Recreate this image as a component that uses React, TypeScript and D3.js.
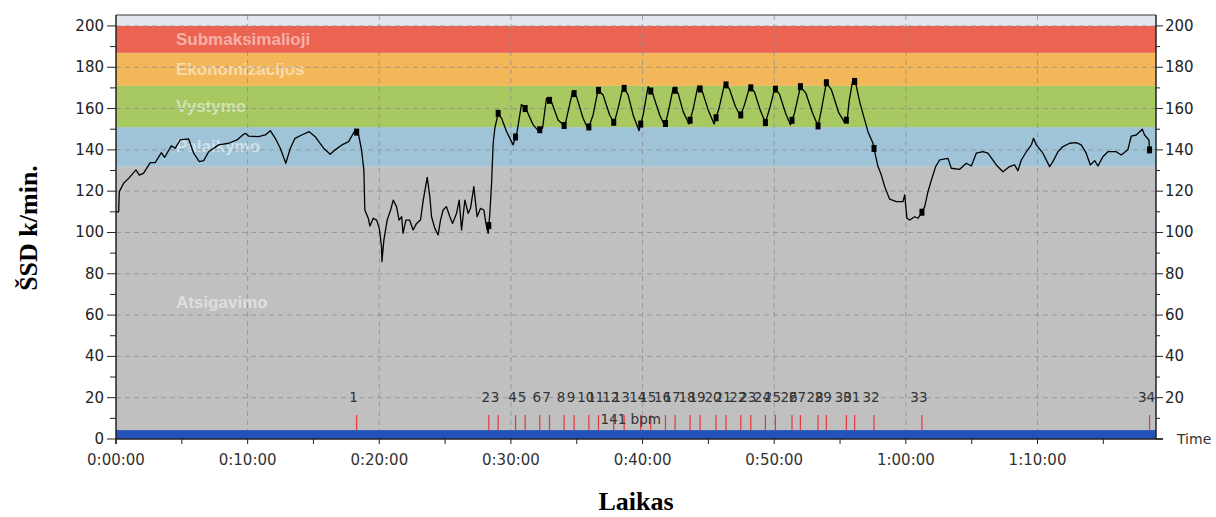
import React from "react";
import * as d3 from "d3";

// heart rate trace, minutes -> beats per minute
const times = [
  0, 0.2, 0.25, 0.58, 0.96, 1.52, 1.77, 2.1, 2.6, 2.98, 3.44, 3.7, 4.2, 4.5, 4.88, 5.52, 5.9, 6.33, 6.66,
  7.04, 7.8, 8.56, 9.19, 9.62, 9.82, 10.07, 10.83, 11.34, 11.72, 12.1, 12.48, 12.9, 13.24, 13.6, 14.1,
  14.68, 15.13, 15.77, 16.27, 16.65, 17.16, 17.67, 18.17, 18.43, 18.65, 18.83, 18.9, 19.16, 19.29, 19.54,
  19.8, 20.0, 20.17, 20.2, 20.35, 20.6, 20.86, 21.06, 21.31, 21.5, 21.7, 21.8, 22.02, 22.3, 22.57, 22.83,
  23.13, 23.34, 23.64, 23.84, 23.97, 24.22, 24.47, 24.65, 24.85, 25.1, 25.36, 25.57, 25.87, 26.07, 26.25,
  26.5, 26.75, 26.93, 27.18, 27.43, 27.69, 27.94, 28.1, 28.27, 28.4, 28.53, 28.65, 28.78, 29.03, 29.29,
  29.67, 30.17, 30.47, 30.8, 31.18, 31.69, 32.07, 32.4, 32.7, 33.08, 33.58, 34.09, 34.34, 34.68, 34.98,
  35.48, 35.86, 36.24, 36.62, 37.0, 37.5, 37.84, 38.14, 38.52, 38.9, 39.28, 39.73, 40.04, 40.42, 40.8,
  41.3, 41.69, 42.01, 42.32, 42.7, 43.08, 43.53, 43.85, 44.2, 44.55, 45.0, 45.43, 45.8, 46.24, 46.6,
  47.05, 47.43, 47.75, 48.14, 48.5, 48.95, 49.33, 49.65, 50.04, 50.4, 50.85, 51.23, 51.55, 51.99, 52.4,
  52.9, 53.33, 53.6, 53.96, 54.35, 54.9, 55.35, 55.55, 55.7, 55.99, 56.2, 56.5, 56.87, 57.12, 57.5, 57.63,
  57.88, 58.14, 58.39, 58.77, 59.28, 59.78, 59.91, 60.08, 60.29, 60.67, 60.92, 61.18, 61.43, 61.68, 61.94,
  62.26, 62.57, 63.2, 63.45, 64.09, 64.59, 64.97, 65.35, 65.86, 66.23, 66.87, 67.37, 67.88, 68.26, 68.51,
  68.77, 69.15, 69.53, 69.7, 69.91, 70.41, 70.92, 71.17, 71.55, 71.93, 72.44, 72.94, 73.32, 73.7, 74.01,
  74.34, 74.59, 74.97, 75.35, 75.98, 76.36, 76.86, 77.12, 77.5, 77.96, 78.13, 78.46, 78.51,
];
const hr = [
  110, 110, 119.8, 123.8, 126.2, 130.3, 127.8, 128.7, 133.8, 133.8, 138.6, 136.4, 141.9, 140.8, 144.8, 145.3,
  138.4, 134.3, 134.8, 139.1, 142.4, 143.2, 144.8, 147.2, 148, 146.7, 146.4, 147.2, 149.3, 145.6, 140.8,
  133.5, 140.8, 145.6, 147.2, 148.8, 146.4, 140.8, 137.9, 140, 142.4, 144, 149.6, 147.2, 140, 130.3, 110.9,
  106.9, 103.1, 106.9, 106, 102, 93.1, 85.9, 96.4, 106, 110.9, 115.7, 112.5, 106, 107.6, 99.6, 106, 106,
  101.2, 104.4, 106, 115.7, 126.7, 117.3, 107.6, 102, 98.8, 106, 110.9, 112.5, 107.6, 104.4, 109.3, 115.7,
  101.2, 115.7, 109.3, 111.7, 122.2, 107.6, 111.7, 110.9, 104.4, 99.6, 109.3, 123.8, 143.2, 150.5, 157.7,
  155.3, 148.8, 142.4, 148.8, 162, 159.3, 152.1, 149.3, 150.5, 165, 163.3, 154.5, 151.5, 158.5, 168.2,
  165.8, 155.3, 150, 156.9, 169, 166.6, 156.9, 153, 160.1, 170.6, 166.6, 156.9, 149.3, 156.9, 170.6,
  166.6, 156.9, 151.4, 160.1, 169.8, 167.4, 158.5, 152.5, 160, 170.9, 168, 159, 152.5, 160, 172.2, 169.5,
  161, 156.4, 162, 170.6, 168, 159, 153.2, 160, 169.8, 167, 158, 152.1, 158, 170.6, 167.5, 158, 151.6, 160,
  172.5, 169, 158, 153.2, 155, 164, 174.6, 172, 163, 154.5, 148.8, 143.2, 139.1, 131.9, 127.8, 122.2,
  116.1, 114.9, 114.9, 118.2, 106.9, 106, 107.6, 106.9, 109.3, 112.5, 119.8, 125.4, 131.9, 135.1, 135.9,
  131.1, 130.6, 133.5, 132.2, 138.4, 139.1, 138.4, 132.7, 129.4, 131.9, 132.7, 129.9, 135.1, 139.1, 142.4,
  145.6, 142.4, 138.4, 131.9, 134.3, 139.1, 141.6, 143.2, 143.5, 142.4, 138.4, 132.7, 134.8, 132.2, 136.7,
  139.1, 139.1, 137.5, 140, 146.7, 147.2, 150, 147.2, 144.8, 140,
];

// lap markers (minutes)
const lapTimes = [
  18.28, 28.32, 29.03, 30.35, 31.08, 32.19, 32.93, 34.04, 34.8, 35.92, 36.65, 37.81, 38.6, 39.86, 40.62,
  41.74, 42.47, 43.61, 44.37, 45.58, 46.34, 47.46, 48.22, 49.33, 50.09, 51.35, 51.99, 53.33, 53.96, 55.48,
  56.11, 57.58, 61.22, 78.51,
];
const lapLabels = lapTimes.map((_, i) => String(i + 1));

// heart rate zones
const zoneNames = ["Atsigavimo", "Palaikymo", "Vystymo", "Ekonomizacijos", "Submaksimalioji"];
const zoneBounds = [0, 132, 151, 171, 187, 200];
const zoneColors = ["#c0c0c0", "#9fc4d8", "#a8c862", "#f3b75a", "#ec6352"];

const xTicks = [0, 10, 20, 30, 40, 50, 60, 70];
const xTickLabels = ["0:00:00", "0:10:00", "0:20:00", "0:30:00", "0:40:00", "0:50:00", "1:00:00", "1:10:00"];
const yTicks = [0, 20, 40, 60, 80, 100, 120, 140, 160, 180, 200];
const avgLabel = "141 bpm";
const avgLabelTime = 39.1;
const baseBar = 4.3;

const tickFont = "'DejaVu Sans', Arial, sans-serif";
const serif = "'Liberation Serif', 'Times New Roman', serif";

export default function App() {
  const left = 116, right = 1156, top = 15, bottom = 439;
  const x = d3.scaleLinear().domain([0, 79]).range([left, right]);
  const y = d3.scaleLinear().domain([0, 205.3]).range([bottom, top]);

  const line = d3.line<number>()
    .x((_, i) => x(times[i]))
    .y((d) => y(d));

  // value of the trace at a lap time
  const hrAt = (t: number) => {
    const i = Math.max(1, Math.min(times.length - 1, d3.bisectLeft(times, t)));
    const t0 = times[i - 1], t1 = times[i];
    const k = t1 === t0 ? 0 : (t - t0) / (t1 - t0);
    return hr[i - 1] + (hr[i] - hr[i - 1]) * k;
  };

  const minor = d3.range(0, 79, 5);
  const yMinor = d3.range(0, 201, 10);

  return (
    <svg width={1216} height={517} style={{ position: "absolute", left: 0, top: 0, background: "#fff" }}>
      {/* plot background + zones */}
      <rect x={left} y={top} width={right - left} height={bottom - top} fill="#e4e8ee" />
      {zoneNames.map((name, i) => (
        <rect key={name} x={left} width={right - left}
          y={y(zoneBounds[i + 1])} height={y(zoneBounds[i]) - y(zoneBounds[i + 1])}
          fill={zoneColors[i]} />
      ))}
      {zoneNames.map((name, i) => (
        <text key={"l" + name} x={176} y={y((zoneBounds[i] + zoneBounds[i + 1]) / 2)}
          dominantBaseline="central" fill="#fff" fillOpacity={0.5}
          fontFamily="'Liberation Sans', Arial, sans-serif" fontWeight="bold" fontSize={17}>
          {name}
        </text>
      ))}

      {/* grid */}
      {yTicks.filter((v) => v > 0).map((v) => (
        <line key={"gy" + v} x1={left} x2={right} y1={y(v)} y2={y(v)}
          stroke="#8e8e8e" strokeOpacity={0.8} strokeDasharray="5,4" />
      ))}
      {xTicks.filter((v) => v > 0).map((v) => (
        <line key={"gx" + v} x1={x(v)} x2={x(v)} y1={top} y2={bottom}
          stroke="#8e8e8e" strokeOpacity={0.8} strokeDasharray="5,4" />
      ))}

      {/* bottom bar */}
      <rect x={left} width={right - left} y={y(baseBar)} height={bottom - y(baseBar)} fill="#2352b9" />

      {/* laps */}
      {lapTimes.map((t, i) => (
        <g key={"lap" + i}>
          <line x1={x(t)} x2={x(t)} y1={y(baseBar)} y2={y(11.6)} stroke="#e8363a" strokeWidth={1.2} />
          <text x={x(t) - 3} y={y(20.3)} dominantBaseline="central" textAnchor="middle"
            fontFamily={tickFont} fontSize={13.5} fill="#333">{lapLabels[i]}</text>
        </g>
      ))}
      <text x={x(avgLabelTime)} y={y(9.6)} dominantBaseline="central" textAnchor="middle"
        fontFamily={tickFont} fontSize={13.5} fill="#333">{avgLabel}</text>

      {/* heart rate */}
      <path d={line(hr) || ""} fill="none" stroke="#000" strokeWidth={1.3} strokeLinejoin="round" />
      {lapTimes.map((t, i) => (
        <rect key={"m" + i} x={x(t) - 2.5} y={y(hrAt(t)) - 3.5} width={5} height={7} fill="#000" />
      ))}

      {/* frame and axes */}
      <line x1={left} x2={right} y1={top} y2={top} stroke="#333" />
      <line x1={left} x2={left} y1={top} y2={bottom + 5} stroke="#222" strokeWidth={1.5} />
      <line x1={right} x2={right} y1={top} y2={bottom} stroke="#222" strokeWidth={1.5} />
      <line x1={left} x2={right + 7} y1={bottom} y2={bottom} stroke="#222" strokeWidth={1.5} />

      {yMinor.map((v) => (
        <g key={"yt" + v}>
          <line x1={left - (v % 20 === 0 ? 9 : 6)} x2={left} y1={y(v)} y2={y(v)} stroke="#222" />
          <line x1={right} x2={right + (v % 20 === 0 ? 7 : 4)} y1={y(v)} y2={y(v)} stroke="#222" />
        </g>
      ))}
      {yTicks.map((v) => (
        <g key={"yl" + v}>
          <text x={left - 12} y={y(v)} dominantBaseline="central" textAnchor="end"
            fontFamily={tickFont} fontSize={15} fill="#222">{v}</text>
          {v > 0 && (
            <text x={right + 9} y={y(v)} dominantBaseline="central" textAnchor="start"
              fontFamily={tickFont} fontSize={15} fill="#222">{v}</text>
          )}
        </g>
      ))}
      <text x={right + 21} y={y(0)} dominantBaseline="central" fontFamily={tickFont}
        fontSize={14} fill="#333">Time</text>

      {minor.map((v) => (
        <line key={"xt" + v} x1={x(v)} x2={x(v)} y1={bottom} y2={bottom + 5} stroke="#222" />
      ))}
      {xTicks.map((v, i) => (
        <text key={"xl" + v} x={x(v)} y={bottom + 21} dominantBaseline="central" textAnchor="middle"
          fontFamily={tickFont} fontSize={15} fill="#333">{xTickLabels[i]}</text>
      ))}

      {/* titles */}
      <text x={636} y={510} textAnchor="middle"
        fontFamily={serif} fontWeight="bold" fontSize={26}>Laikas</text>
      <text transform="translate(37,228) rotate(-90)" textAnchor="middle"
        fontFamily={serif} fontWeight="bold" fontSize={26}>ŠSD k/min.</text>
    </svg>
  );
}
